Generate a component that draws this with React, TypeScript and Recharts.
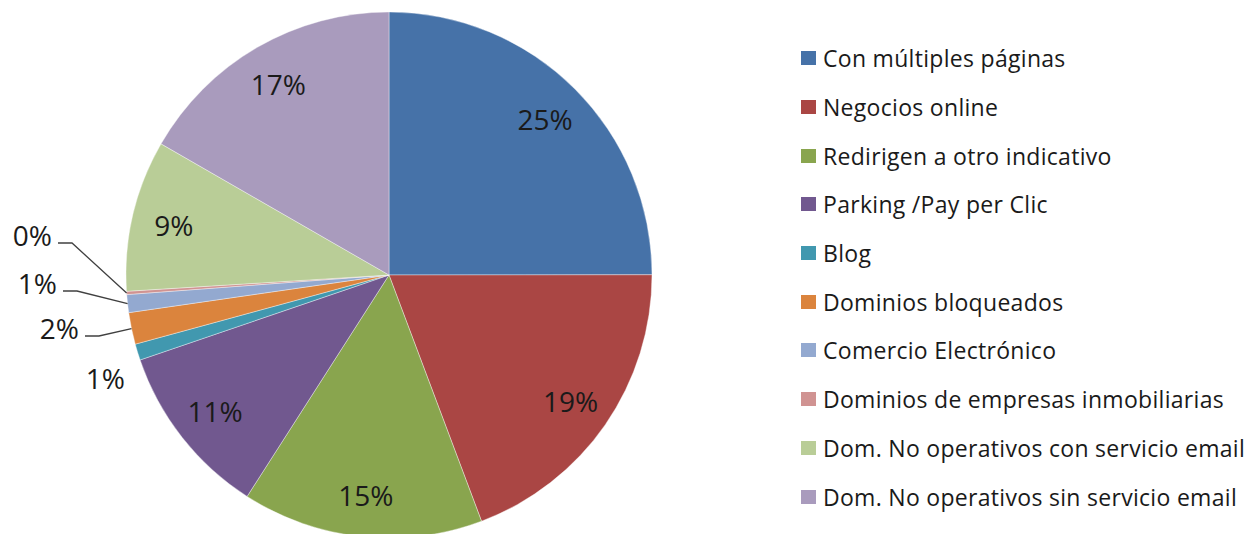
import { PieChart, Pie, Cell, Legend } from 'recharts'

const categories = [
  'Con múltiples páginas',
  'Negocios online',
  'Redirigen a otro indicativo',
  'Parking /Pay per Clic',
  'Blog',
  'Dominios bloqueados',
  'Comercio Electrónico',
  'Dominios de empresas inmobiliarias',
  'Dom. No operativos con servicio email',
  'Dom. No operativos sin servicio email',
]

const shares = [25, 19.3, 14.8, 10.7, 1.0, 1.95, 1.1, 0.2, 9.3, 16.7]

const colors = [
  '#4672A8',
  '#AA4644',
  '#89A54E',
  '#71588F',
  '#4198AF',
  '#DB843D',
  '#93A9D0',
  '#D09392',
  '#B9CD97',
  '#A99BBD',
]

const data = categories.map((name, i) => ({ name, value: shares[i] }))

const FONT = '"Open Sans", "Noto Sans", sans-serif'
const RAD = Math.PI / 180

// small slices get their labels pulled out to the left, like Excel does
const callouts: Record<number, { dx: number; dy: number; line: boolean }> = {
  4: { dx: -264, dy: 103, line: false },
  5: { dx: -310, dy: 53, line: true },
  6: { dx: -332, dy: 8, line: true },
  7: { dx: -337, dy: -40, line: true },
}

function SliceLabel(props: any) {
  const { cx, cy, midAngle, outerRadius, percent, index } = props
  const text = `${Math.round(percent * 100)}%`
  const c = callouts[index]
  if (c) {
    const tx = cx + c.dx
    const ty = cy + c.dy
    const ax = cx + outerRadius * Math.cos(-midAngle * RAD)
    const ay = cy + outerRadius * Math.sin(-midAngle * RAD)
    const ly = ty + 8
    return (
      <g>
        <text x={tx} y={ty} textAnchor="end" dominantBaseline="central"
          fontFamily={FONT} fontSize={28} fill="#1a1a1a">{text}</text>
        {c.line && (
          <polyline
            points={`${tx + 6},${ly} ${tx + 20},${ly} ${ax},${ay}`}
            fill="none" stroke="#404040" strokeWidth={1.3}
          />
        )}
      </g>
    )
  }
  const r = outerRadius * 0.84
  const x = cx + r * Math.cos(-midAngle * RAD)
  const y = cy + r * Math.sin(-midAngle * RAD)
  return (
    <text x={x} y={y} textAnchor="middle" dominantBaseline="central"
      fontFamily={FONT} fontSize={28} fill="#1a1a1a">{text}</text>
  )
}

function LegendList() {
  return (
    <div style={{ fontFamily: FONT, fontSize: 23, letterSpacing: 0.3, color: '#1a1a1a' }}>
      {categories.map((name, i) => (
        <div key={name} style={{ display: 'flex', alignItems: 'center', height: 48.7, whiteSpace: 'nowrap' }}>
          <span style={{ width: 15, height: 14, background: colors[i], marginRight: 7, flexShrink: 0 }} />
          <span>{name}</span>
        </div>
      ))}
    </div>
  )
}

export default function App() {
  return (
    <div style={{ width: 1247, height: 534, background: '#fff', overflow: 'hidden' }}>
      <style>{'body{margin:0}'}</style>
      <PieChart width={1247} height={534} margin={{ top: 0, right: 0, bottom: 0, left: 0 }}>
        <Pie
          data={data}
          dataKey="value"
          nameKey="name"
          cx={389}
          cy={275}
          outerRadius={263}
          startAngle={90}
          endAngle={-270}
          stroke="#ffffff"
          strokeOpacity={0.5}
          strokeWidth={0.75}
          label={SliceLabel}
          labelLine={false}
          isAnimationActive={false}
        >
          {data.map((d, i) => (
            <Cell key={d.name} fill={colors[i]} />
          ))}
        </Pie>
        <Legend
          layout="vertical"
          content={<LegendList />}
          wrapperStyle={{ left: 801, top: 34, width: 446 }}
        />
      </PieChart>
    </div>
  )
}
